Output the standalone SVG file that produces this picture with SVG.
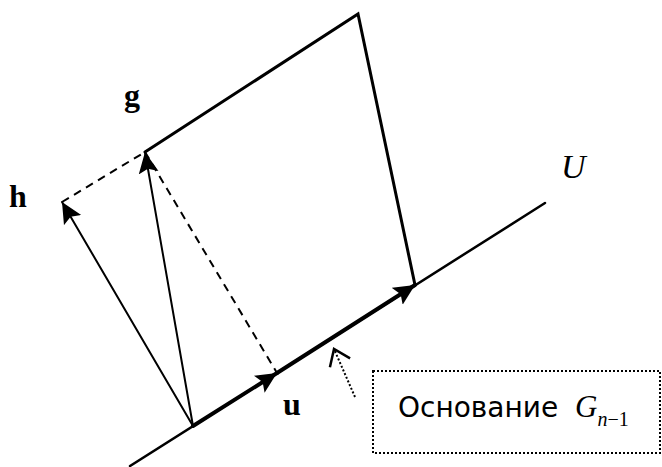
<svg xmlns="http://www.w3.org/2000/svg" width="662" height="467" viewBox="0 0 662 467">
<style>
.ln{fill:none;stroke:#000;stroke-linecap:round}
.lbl{font-family:"Liberation Serif",serif;font-weight:bold;font-size:32px;fill:#000}
.it{font-family:"Liberation Serif",serif;font-style:italic;fill:#000}
</style>
<defs>
<marker id="ah" markerUnits="userSpaceOnUse" markerWidth="24" markerHeight="22" refX="21" refY="11" orient="auto"><path d="M0,1 L21,11 L0,21 L4,11 Z" fill="#000"/></marker>
<marker id="open" markerUnits="userSpaceOnUse" markerWidth="24" markerHeight="26" refX="21" refY="13" orient="auto"><path d="M6,2 L21,13 L6,24" fill="none" stroke="#000" stroke-width="2.5"/></marker>
</defs>
<g id="connectors">
<line id="U-line" class="ln" x1="130" y1="466" x2="545" y2="203" stroke-width="2.5"/>
<line class="ln" x1="193" y1="426" x2="277" y2="373" stroke-width="4" marker-end="url(#ah)"/>
<line class="ln" x1="277" y1="373" x2="415" y2="285" stroke-width="4" marker-end="url(#ah)"/>
<line class="ln" x1="193" y1="426" x2="62" y2="202" stroke-width="2" marker-end="url(#ah)"/>
<line class="ln" x1="193" y1="426" x2="145" y2="152" stroke-width="2" marker-end="url(#ah)"/>
<polyline class="ln" points="145,152 358,14 415,285" stroke-width="3" stroke-linejoin="miter"/>
<line x1="62" y1="202" x2="145" y2="152" stroke="#000" stroke-width="2" stroke-dasharray="8,6"/>
<line x1="145" y1="152" x2="277" y2="373" stroke="#000" stroke-width="2" stroke-dasharray="8,6"/>
<line x1="355" y1="397" x2="334" y2="349" stroke="#000" stroke-width="2" stroke-dasharray="2,2" marker-end="url(#open)"/>
</g>
<g id="label-h"><text class="lbl" x="9" y="207">h</text></g>
<g id="label-g"><text class="lbl" x="124" y="106">g</text></g>
<g id="label-u"><text class="lbl" x="283" y="415">u</text></g>
<g id="label-U"><text class="it" x="561" y="178" font-size="34">U</text></g>
<g id="base-box">
<rect x="373" y="371" width="287" height="82" fill="none" stroke="#000" stroke-width="2" stroke-dasharray="2,2"/>
<text x="398" y="417" font-family="DejaVu Sans,sans-serif" font-size="28" fill="#000">Основание<tspan class="it" font-size="31" x="575">G</tspan><tspan class="it" font-size="20" dy="9">n</tspan><tspan font-family="Liberation Serif,serif" font-size="20">−1</tspan></text>
</g>
</svg>
